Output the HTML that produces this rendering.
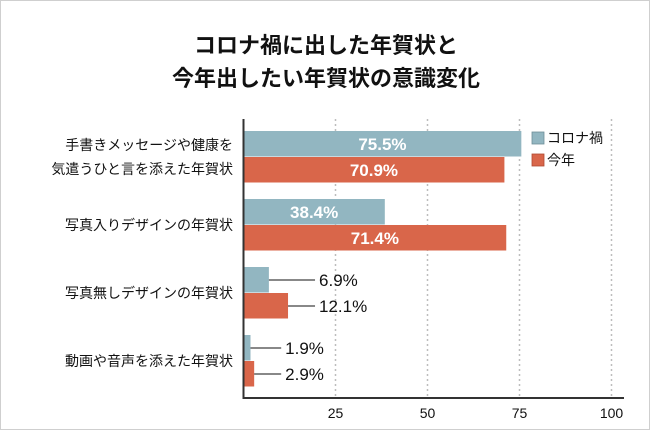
<!DOCTYPE html>
<html><head><meta charset="utf-8"><style>
body{margin:0;background:#fff}
#c{position:relative;width:648px;height:428px;border:1px solid #cfcfcf;background:#fff;font-family:"Liberation Sans","Noto Sans CJK JP",sans-serif;overflow:hidden}
</style></head><body>
<div id="c">
<svg id="s" width="648" height="428" xmlns="http://www.w3.org/2000/svg">
<text x="325" y="52" text-anchor="middle" font-size="22" font-weight="bold" fill="#111">コロナ禍に出した年賀状と</text>
<text x="325" y="85" text-anchor="middle" font-size="22" font-weight="bold" fill="#111">今年出したい年賀状の意識変化</text>
</svg>
</div>
<script>
const categories=[["手書きメッセージや健康を","気遣うひと言を添えた年賀状"],["写真入りデザインの年賀状"],["写真無しデザインの年賀状"],["動画や音声を添えた年賀状"]];
const seriesNames=["コロナ禍","今年"];
const coronaValues=[75.5,38.4,6.9,1.9];
const thisYearValues=[70.9,71.4,12.1,2.9];
const tickValues=[25,50,75,100];
const colors=["#92b6c1","#d9664a"];
const NS="http://www.w3.org/2000/svg";
const svg=document.getElementById('s');
const x0=242.5,scale=3.68,yTop=130,groupStep=68,barH=26,axisY=397;
const xs=v=>x0+v*scale;
function mk(t,a,p){const e=document.createElementNS(NS,t);for(const k in a)e.setAttribute(k,a[k]);(p||svg).appendChild(e);return e;}
tickValues.forEach(v=>{
 const g=mk('line',{x1:xs(v),x2:xs(v),y1:118,y2:axisY,stroke:'#bdbdbd','stroke-width':1.5,'stroke-dasharray':'2,3'});
 
 
 const t=mk('text',{x:xs(v),y:axisY+20,'text-anchor':'middle','font-size':14,fill:'#111'});t.textContent=v;
 
 
});
const series=[coronaValues,thisYearValues];
categories.forEach((cat,i)=>{
 const gy=yTop+i*groupStep;
 const lab=mk('text',{x:232,'text-anchor':'end','font-size':14,fill:'#111'});
 
 
 const mid=gy+barH;
 cat.forEach((ln,j)=>{const ts=mk('tspan',{x:232,y:mid+5+(j-(cat.length-1)/2)*24},lab);ts.textContent=ln;});
 const maxEnd=Math.max(...series.map(s=>xs(s[i])));
 series.forEach((s,k)=>{
  const v=s[i],y=gy+k*barH;
  const r=mk('rect',{x:x0,y:y,width:v*scale,height:barH-0.5,fill:colors[k]});
  
  
  const t=mk('text',{'font-size':17,'font-weight':'bold'});t.textContent=v+'%';
  
  
  if(v>20){t.setAttribute('x',x0+v*scale/2);t.setAttribute('y',y+19);t.setAttribute('text-anchor','middle');t.setAttribute('fill','#fff');}
  else{const le=maxEnd+27;const l=mk('line',{x1:xs(v),x2:le,y1:y+13,y2:y+13,stroke:'#111','stroke-width':1});
   
   
   t.setAttribute('x',le+4);t.setAttribute('y',y+19);t.setAttribute('fill','#111');t.setAttribute('font-weight','normal');}
 });
});
const ax=mk('path',{d:`M${x0} 118 V${axisY} H623`,stroke:'#333','stroke-width':2,fill:'none'});


seriesNames.forEach((n,k)=>{
 const y=131+k*22;
 const r=mk('rect',{x:531,y:y,width:12,height:12,fill:colors[k],stroke:k?'#b04a30':'#6f8e98','stroke-width':0.8});
 
 
 const t=mk('text',{x:546,y:y+11,'font-size':14,fill:'#111'});t.textContent=n;
 
 
});
</script>
</body></html>
